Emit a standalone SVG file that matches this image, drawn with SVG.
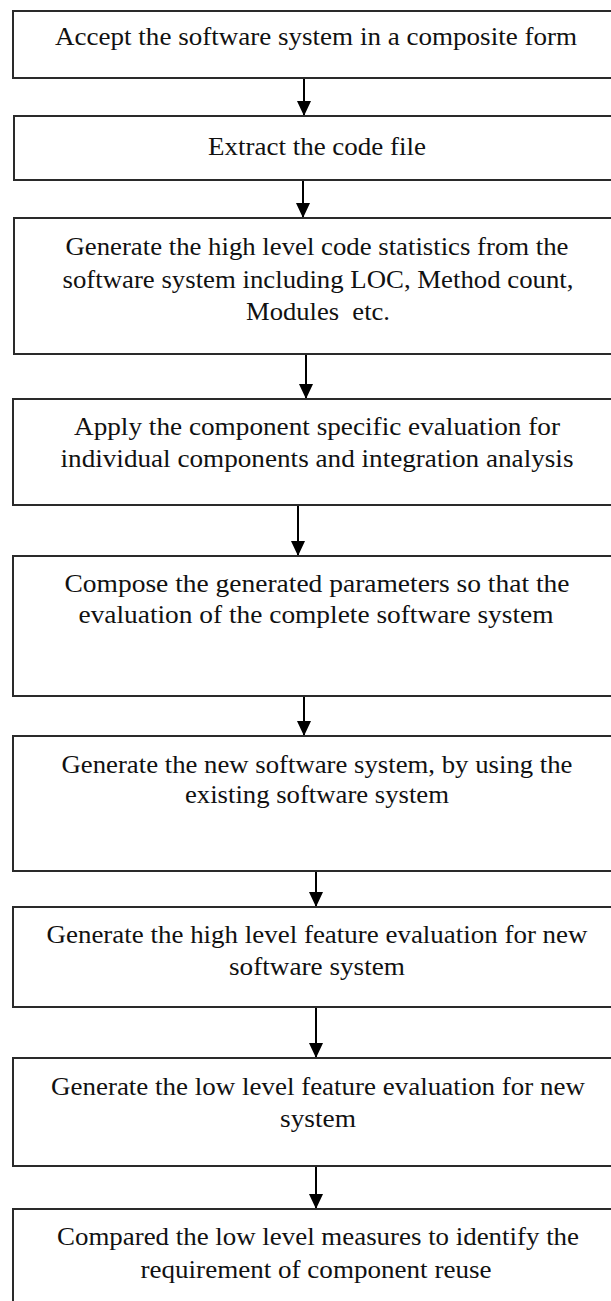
<svg xmlns="http://www.w3.org/2000/svg" width="611" height="1301" viewBox="0 0 611 1301">
<style>
.box{fill:#fff;stroke:#2a2a2a;stroke-width:2}
.t{font-family:"Liberation Serif","Times New Roman",serif;font-size:26px;fill:#111;text-anchor:middle}
.c{stroke:#000;stroke-width:2;fill:none}
</style>
<defs>
<marker id="ah" markerUnits="userSpaceOnUse" markerWidth="14" markerHeight="15" viewBox="0 0 14 15" refX="7" refY="15" orient="auto-start-reverse">
<path d="M0,0 L14,0 L7,15 Z" fill="#000" transform="rotate(-90 7 7.5) translate(0 0)"/>
</marker>
<marker id="arr" markerUnits="userSpaceOnUse" markerWidth="15" markerHeight="14" viewBox="0 0 15 14" refX="15" refY="7" orient="auto">
<path d="M0,0 L15,7 L0,14 Z" fill="#000"/>
</marker>
</defs>
<rect width="611" height="1301" fill="#fff"/>
<g id="connectors">
<line class="c" x1="304" y1="78" x2="304" y2="116" marker-end="url(#arr)"/>
<line class="c" x1="303" y1="180" x2="303" y2="218" marker-end="url(#arr)"/>
<line class="c" x1="306" y1="354" x2="306" y2="399" marker-end="url(#arr)"/>
<line class="c" x1="298" y1="505" x2="298" y2="556" marker-end="url(#arr)"/>
<line class="c" x1="304" y1="696" x2="304" y2="736" marker-end="url(#arr)"/>
<line class="c" x1="316" y1="871" x2="316" y2="907" marker-end="url(#arr)"/>
<line class="c" x1="316" y1="1007" x2="316" y2="1058" marker-end="url(#arr)"/>
<line class="c" x1="316" y1="1166" x2="316" y2="1209" marker-end="url(#arr)"/>
</g>
<g id="n1"><rect class="box" x="13" y="11" width="620" height="67"/>
<text class="t" x="316" y="45" textLength="522" lengthAdjust="spacingAndGlyphs">Accept the software system in a composite form</text></g>
<g id="n2"><rect class="box" x="14" y="116" width="620" height="64"/>
<text class="t" x="317" y="155" textLength="218" lengthAdjust="spacingAndGlyphs">Extract the code file</text></g>
<g id="n3"><rect class="box" x="14" y="218" width="620" height="136"/>
<text class="t" x="317" y="255" textLength="503" lengthAdjust="spacingAndGlyphs">Generate the high level code statistics from the</text>
<text class="t" x="318" y="288" textLength="511" lengthAdjust="spacingAndGlyphs">software system including LOC, Method count,</text>
<text class="t" x="318" y="320" textLength="144" lengthAdjust="spacingAndGlyphs" xml:space="preserve">Modules  etc.</text></g>
<g id="n4"><rect class="box" x="13" y="399" width="620" height="106"/>
<text class="t" x="317" y="435" textLength="486" lengthAdjust="spacingAndGlyphs">Apply the component specific evaluation for</text>
<text class="t" x="317" y="467" textLength="513" lengthAdjust="spacingAndGlyphs">individual components and integration analysis</text></g>
<g id="n5"><rect class="box" x="13" y="556" width="620" height="140"/>
<text class="t" x="317" y="592" textLength="505" lengthAdjust="spacingAndGlyphs">Compose the generated parameters so that the</text>
<text class="t" x="316" y="623" textLength="475" lengthAdjust="spacingAndGlyphs">evaluation of the complete software system</text></g>
<g id="n6"><rect class="box" x="13" y="736" width="620" height="135"/>
<text class="t" x="317" y="773" textLength="511" lengthAdjust="spacingAndGlyphs">Generate the new software system, by using the</text>
<text class="t" x="317" y="803" textLength="264" lengthAdjust="spacingAndGlyphs">existing software system</text></g>
<g id="n7"><rect class="box" x="13" y="907" width="620" height="100"/>
<text class="t" x="317" y="943" textLength="541" lengthAdjust="spacingAndGlyphs">Generate the high level feature evaluation for new</text>
<text class="t" x="317" y="975" textLength="176" lengthAdjust="spacingAndGlyphs">software system</text></g>
<g id="n8"><rect class="box" x="13" y="1058" width="620" height="108"/>
<text class="t" x="318" y="1095" textLength="534" lengthAdjust="spacingAndGlyphs">Generate the low level feature evaluation for new</text>
<text class="t" x="318" y="1127" textLength="76" lengthAdjust="spacingAndGlyphs">system</text></g>
<g id="n9"><rect class="box" x="13" y="1209" width="620" height="110"/>
<text class="t" x="318" y="1245" textLength="522" lengthAdjust="spacingAndGlyphs">Compared the low level measures to identify the</text>
<text class="t" x="316" y="1278" textLength="351" lengthAdjust="spacingAndGlyphs">requirement of component reuse</text></g>
</svg>
